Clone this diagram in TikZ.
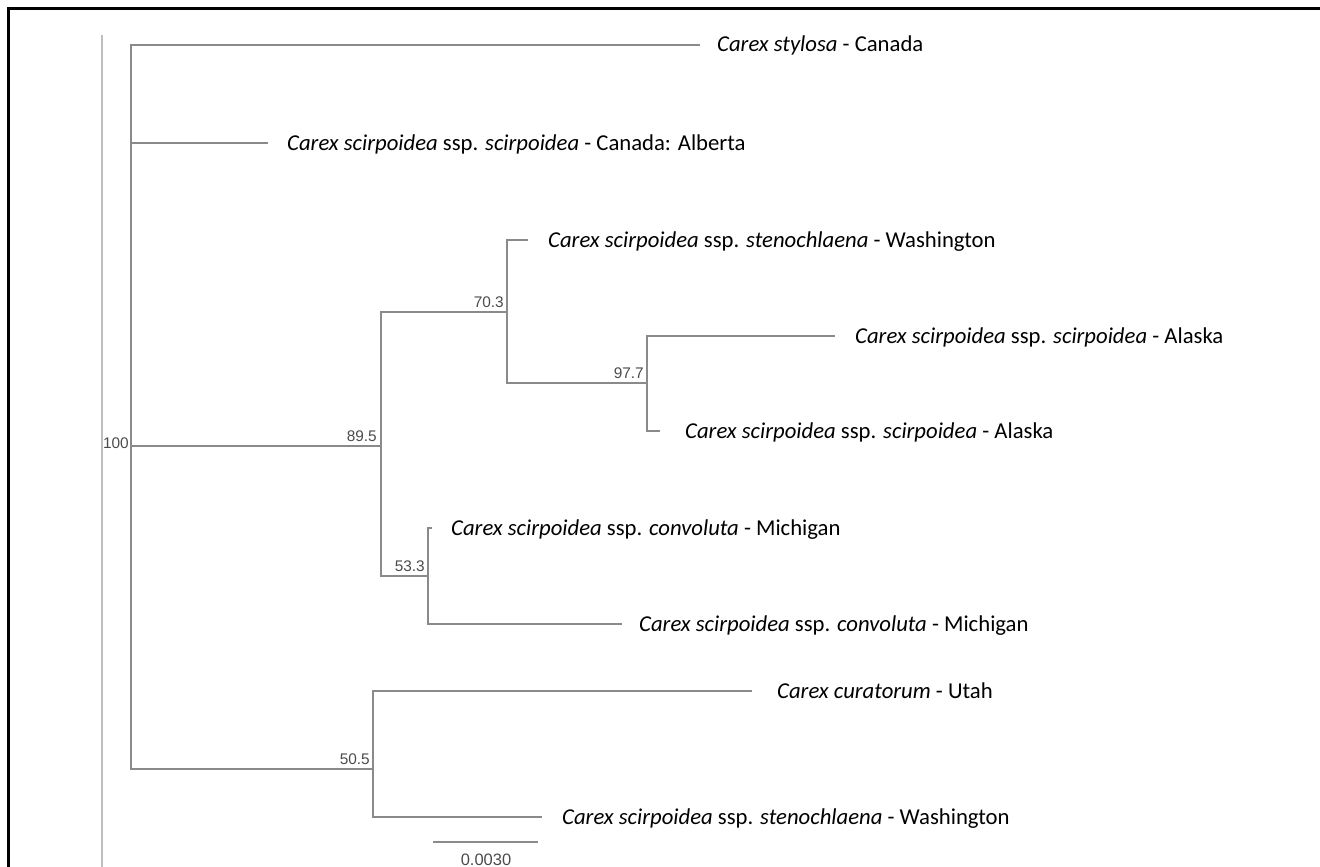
\documentclass[tikz,border=0pt]{standalone}
\usepackage{fontspec}
\setmainfont{Carlito}
\newfontfamily\bootfont{Liberation Sans}
\usepackage{tikz}
\usetikzlibrary{positioning}
\definecolor{treegray}{RGB}{138,138,138}
\definecolor{guidegray}{RGB}{190,190,190}
\definecolor{bootgray}{RGB}{75,75,75}

\begin{document}
\begin{tikzpicture}[x=1pt,y=-1pt]
        \useasboundingbox (0,0) rectangle (1320,867);
        % frame and guide line
        \draw[black,line width=3pt] (8,867) -- (8,9) -- (1320,9);
        \draw[guidegray,line width=1.5pt] (102,35) -- (102,867);

        % internal nodes and tips
        \coordinate (R) at (131,446);
        \coordinate (N1) at (381,446);
        \coordinate (N2) at (507,312);
        \coordinate (N3) at (647,383);
        \coordinate (N4) at (428,576);
        \coordinate (N5) at (373,769);

        \coordinate (T1) at (700,45);
        \coordinate (T2) at (268,143);
        \coordinate (T3) at (528,240);
        \coordinate (T4) at (835,336);
        \coordinate (T5) at (660,431);
        \coordinate (T6) at (432,528);
        \coordinate (T7) at (622,624);
        \coordinate (T8) at (752,691);
        \coordinate (T9) at (542,817);

        \begin{scope}[
            every node/.style={inner sep=0pt,yshift=-7pt,
                font=\fontsize{22.7}{27}\selectfont}
        ]
            \node[base right=17pt of T1] (L1) {\textit{Carex stylosa} - Canada};
            \node[base right=19pt of T2] (L2) {\textit{Carex scirpoidea} ssp. \textit{scirpoidea} - Canada: Alberta};
            \node[base right=20pt of T3] (L3) {\textit{Carex scirpoidea} ssp. \textit{stenochlaena} - Washington};
            \node[base right=20pt of T4] (L4) {\textit{Carex scirpoidea} ssp. \textit{scirpoidea} - Alaska};
            \node[base right=25pt of T5] (L5) {\textit{Carex scirpoidea} ssp. \textit{scirpoidea} - Alaska};
            \node[base right=19pt of T6] (L6) {\textit{Carex scirpoidea} ssp. \textit{convoluta} - Michigan};
            \node[base right=17pt of T7] (L7) {\textit{Carex scirpoidea} ssp. \textit{convoluta} - Michigan};
            \node[base right=25pt of T8] (L8) {\textit{Carex curatorum} - Utah};
            \node[base right=20pt of T9] (L9) {\textit{Carex scirpoidea} ssp. \textit{stenochlaena} - Washington};
        \end{scope}

        \begin{scope}[
            every edge/.style={draw=treegray,line width=2pt,to path={|- (\tikztotarget)}}
        ]
            \path [-] (R) edge (T1);
            \path [-] (R) edge (T2);
            \path [-] (R) edge (N1);
            \path [-] (R) edge (N5);

            \path [-] (N1) edge (N2);
            \path [-] (N1) edge (N4);

            \path [-] (N2) edge (T3);
            \path [-] (N2) edge (N3);

            \path [-] (N3) edge (T4);
            \path [-] (N3) edge (T5);

            \path [-] (N4) edge (T6);
            \path [-] (N4) edge (T7);

            \path [-] (N5) edge (T8);
            \path [-] (N5) edge (T9);
        \end{scope}

        % bootstrap values
        \begin{scope}[
            every node/.style={inner sep=0pt,text=bootgray,
                font=\bootfont\fontsize{15.4}{18}\selectfont}
        ]
            \node[anchor=east,xshift=-2pt,yshift=3pt] (B0) at (R) {100};
            \node[anchor=south east,xshift=-4pt,yshift=4pt] (B1) at (N1) {89.5};
            \node[anchor=south east,xshift=-3pt,yshift=4pt] (B2) at (N2) {70.3};
            \node[anchor=south east,xshift=-3pt,yshift=4pt] (B3) at (N3) {97.7};
            \node[anchor=south east,xshift=-3pt,yshift=4pt] (B4) at (N4) {53.3};
            \node[anchor=south east,xshift=-3pt,yshift=4pt] (B5) at (N5) {50.5};
        \end{scope}

        % scale bar
        \coordinate (S1) at (433,842);
        \coordinate (S2) at (538,842);
        \draw[treegray,line width=2pt] (S1) -- (S2);
        \node[inner sep=0pt,text=bootgray,font=\bootfont\fontsize{16.5}{19}\selectfont]
            (SL) at (486,860) {0.0030};
\end{tikzpicture}
\end{document}
